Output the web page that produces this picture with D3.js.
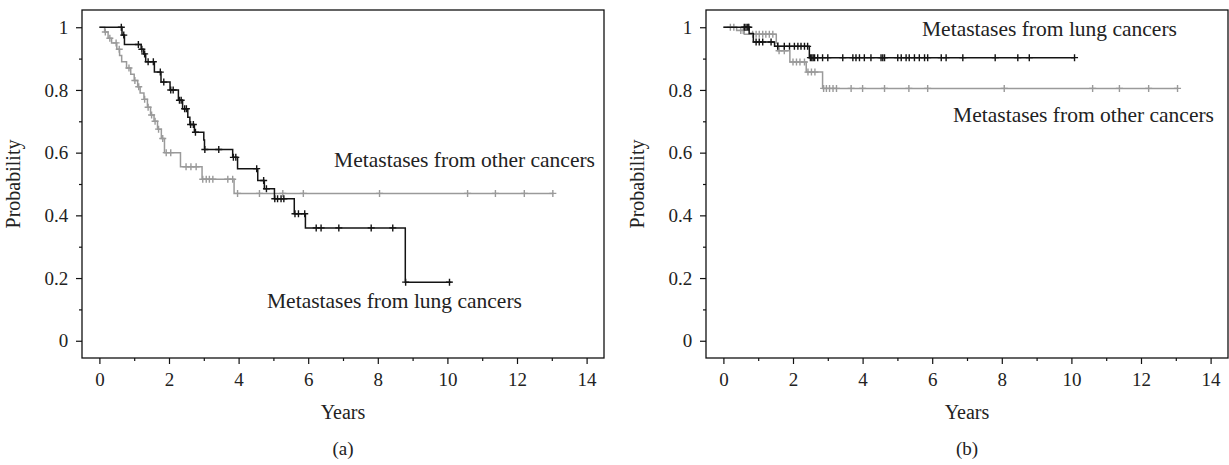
<!DOCTYPE html>
<html><head><meta charset="utf-8">
<script src="https://cdn.jsdelivr.net/npm/d3@7"></script>
<style>body{margin:0;background:#fff}svg{display:block}text{font-family:"Liberation Serif","Times New Roman",serif;fill:#222}</style>
</head><body><svg id="c" width="1229" height="465"></svg>
<script>
const xTicks = [0,2,4,6,8,10,12,14];
const xMinor = [1,3,5,7,9,11,13];
const yTicks = [0,0.2,0.4,0.6,0.8,1];
const yMinor = [0.1,0.3,0.5,0.7,0.9];
const yTickLabels = ["0","0.2","0.4","0.6","0.8","1"];

// Panel (a)
const aLungStepT = [0.65,0.72,1.20,1.27,1.33,1.58,1.77,2.03,2.27,2.39,2.54,2.60,2.73,3.00,3.02,3.83,3.97,4.55,4.74,5.03,5.60,5.92,8.79];
const aLungStepS = [0.975,0.945,0.93,0.915,0.89,0.857,0.825,0.80,0.767,0.74,0.713,0.69,0.665,0.64,0.61,0.585,0.549,0.511,0.485,0.453,0.405,0.36,0.187];
const aLungCensor = [0.63,0.70,1.12,1.22,1.30,1.40,1.55,1.75,1.85,2.05,2.12,2.30,2.35,2.45,2.50,2.62,2.70,2.76,3.03,3.43,3.85,3.92,4.52,4.72,4.80,5.04,5.12,5.22,5.30,5.62,5.72,5.90,6.23,6.37,6.88,7.81,8.43,8.80,10.06];
const aLungEnd = 10.12;
const aOtherStepT = [0.15,0.25,0.35,0.50,0.58,0.64,0.78,0.90,1.00,1.10,1.17,1.28,1.38,1.47,1.57,1.67,1.78,1.87,2.33,2.95,3.87];
const aOtherStepS = [0.985,0.965,0.95,0.93,0.91,0.89,0.87,0.85,0.83,0.81,0.79,0.77,0.745,0.72,0.70,0.675,0.645,0.60,0.555,0.515,0.47];
const aOtherCensor = [0.17,0.30,0.48,0.57,0.85,1.02,1.13,1.30,1.40,1.50,1.60,1.70,1.82,1.92,2.05,2.49,2.63,2.78,2.97,3.07,3.16,3.26,3.69,3.83,3.97,4.60,5.27,5.86,8.05,10.58,11.38,12.21,13.03];
const aOtherEnd = 13.05;

// Panel (b)
const bLungStepT = [0.74,0.86,1.47,2.47];
const bLungStepS = [0.98,0.953,0.939,0.903];
const bLungCensor = [0.60,0.65,0.70,0.73,0.94,1.03,1.13,1.37,1.56,1.75,1.90,2.04,2.14,2.23,2.33,2.42,2.50,2.54,2.58,2.62,2.71,2.85,3.00,3.43,3.72,3.81,3.91,4.05,4.24,4.53,4.58,4.63,5.01,5.11,5.25,5.34,5.49,5.63,5.78,5.87,6.26,6.40,6.88,7.81,8.46,8.79,10.09];
const bLungEnd = 10.1;
const bOtherStepT = [0.38,0.60,1.52,1.57,1.91,2.38,2.85];
const bOtherStepS = [0.99,0.978,0.95,0.925,0.889,0.857,0.805];
const bOtherCensor = [0.20,0.30,0.50,0.57,0.84,0.94,1.03,1.13,1.22,1.32,1.42,1.60,1.75,2.00,2.10,2.20,2.33,2.43,2.53,2.63,2.88,2.96,3.05,3.15,3.25,3.67,4.00,4.63,5.33,5.87,8.07,10.61,11.38,12.22,13.05];
const bOtherEnd = 13.06;

const svg = d3.select("#c");
const FS = 19, FT = 20;

function surv(stepT, stepS, t){ let s=1; for(let i=0;i<stepT.length;i++){ if(stepT[i]<=t) s=stepS[i]; } return s; }

function panel(cfg){
  const x = d3.scaleLinear().domain([-0.5,14.5]).range([cfg.left, cfg.left+522]);
  const y = d3.scaleLinear().domain([-0.055,1.055]).range([358,10]);
  const g = svg.append("g");
  g.append("rect").attr("x",x(-0.5)).attr("y",y(1.055)).attr("width",x(14.5)-x(-0.5)).attr("height",y(-0.055)-y(1.055))
    .attr("fill","none").attr("stroke","#111").attr("stroke-width",1.3);
  const xa = g.append("g").attr("transform",`translate(0,${y(-0.055)})`)
    .call(d3.axisBottom(x).tickValues(xTicks).tickSize(6).tickFormat(d3.format("d")));
  g.append("g").attr("transform",`translate(0,${y(-0.055)})`)
    .call(d3.axisBottom(x).tickValues(xMinor).tickSize(3).tickFormat(""));
  const ya = g.append("g").attr("transform",`translate(${x(-0.5)},0)`)
    .call(d3.axisLeft(y).tickValues(yTicks).tickSize(6).tickFormat((d,i)=>yTickLabels[i]));
  g.append("g").attr("transform",`translate(${x(-0.5)},0)`)
    .call(d3.axisLeft(y).tickValues(yMinor).tickSize(3).tickFormat(""));
  g.selectAll(".domain").remove();
  g.selectAll(".tick line").attr("stroke","#111").attr("stroke-width",1.2);
  xa.selectAll("text").style("font-size",FS+"px").style("font-family","Liberation Serif").attr("fill","#222").attr("dy","1.0em");
  ya.selectAll("text").style("font-size",FS+"px").style("font-family","Liberation Serif").attr("fill","#222").attr("dx","-0.25em");
  g.append("text").attr("x",(x(0)+x(14))/2).attr("y",419).attr("text-anchor","middle").style("font-size",FT+"px").text("Years");
  g.append("text").attr("x",(x(0)+x(14))/2).attr("y",455).attr("text-anchor","middle").style("font-size",FS+"px").text(cfg.tag);
  g.append("text").attr("transform",`translate(${cfg.left-62},${(y(0)+y(1))/2}) rotate(-90)`).attr("text-anchor","middle")
    .style("font-size",FT+"px").text("Probability");
  cfg.curves.forEach(c=>{
    const pts=[[0,1]];
    c.t.forEach((t,i)=>{ pts.push([t, i===0?1:c.s[i-1]]); pts.push([t, c.s[i]]); });
    pts.push([c.end, c.s[c.s.length-1]]);
    g.append("path").datum(pts).attr("fill","none").attr("stroke",c.color).attr("stroke-width",1.5)
      .attr("d", d3.line().x(d=>x(d[0])).y(d=>y(d[1])));
    const m = g.append("g");
    c.cens.forEach(t=>{
      const cx=x(t), cy=y(surv(c.t,c.s,t));
      m.append("path").attr("d",`M${cx-3.5},${cy}H${cx+3.5}M${cx},${cy-3.5}V${cy+3.5}`)
        .attr("stroke",c.color).attr("stroke-width",1.4).attr("fill","none");
    });
  });
  cfg.labels.forEach(l=>{
    g.append("text").attr("x",l.x).attr("y",l.y).attr("text-anchor",l.anchor).style("font-size",l.fs+"px").text(l.text);
  });
}

const GRAY="#9a9a9a", BLACK="#141414";
panel({left:82, tag:"(a)",
  curves:[
    {t:aOtherStepT,s:aOtherStepS,cens:aOtherCensor,end:aOtherEnd,color:GRAY},
    {t:aLungStepT,s:aLungStepS,cens:aLungCensor,end:aLungEnd,color:BLACK}
  ],
  labels:[
    {text:"Metastases from other cancers",x:595,y:167,anchor:"end",fs:21.5},
    {text:"Metastases from lung cancers",x:267,y:308,anchor:"start",fs:21.5}
  ]});
panel({left:706, tag:"(b)",
  curves:[
    {t:bOtherStepT,s:bOtherStepS,cens:bOtherCensor,end:bOtherEnd,color:GRAY},
    {t:bLungStepT,s:bLungStepS,cens:bLungCensor,end:bLungEnd,color:BLACK}
  ],
  labels:[
    {text:"Metastases from lung cancers",x:922,y:36,anchor:"start",fs:21.5},
    {text:"Metastases from other cancers",x:1214,y:122,anchor:"end",fs:21.5}
  ]});
</script></body></html>
